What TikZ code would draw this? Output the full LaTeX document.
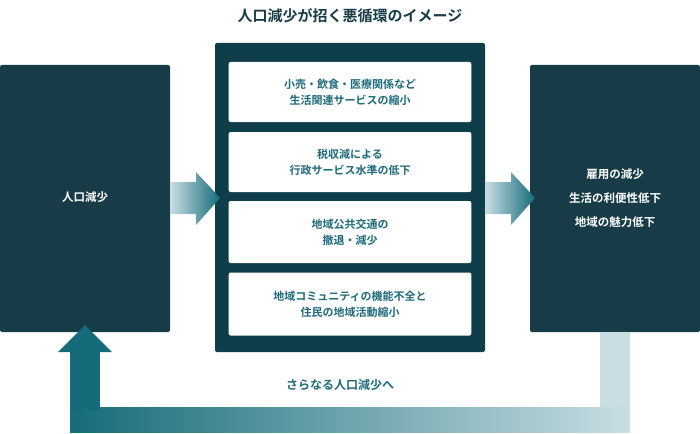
\documentclass[tikz,border=0pt]{standalone}
\usepackage{fontspec}
\setmainfont{Noto Sans CJK JP}[BoldFont={* Bold}]
\newfontfamily\jp{Noto Sans CJK JP Bold}
\usetikzlibrary{positioning}
\definecolor{dk}{HTML}{173C48}
\definecolor{mid}{HTML}{0E3E4A}
\definecolor{tx}{HTML}{1E6B7A}
\definecolor{ar}{HTML}{156B79}
\definecolor{lt}{HTML}{C8DEE3}
\tikzset{
 bigbox/.style={fill=dk,rounded corners=2pt,draw=none},
 inbox/.style={fill=white,rounded corners=2pt,minimum width=240pt,text width=236pt,align=center,text=tx,font=\jp\fontsize{11}{16}\selectfont},
 wtxt/.style={text=white,font=\jp\fontsize{11.5}{16}\selectfont,align=center}
}
\begin{document}
\begin{tikzpicture}[x=1pt,y=-1pt]
\useasboundingbox (0,0) rectangle (700,433);
\node[font=\jp\fontsize{15}{18}\selectfont,text=dk] (title) at (350,16) {人口減少が招く悪循環のイメージ};
% boxes
\fill[bigbox] (0,65) rectangle (170,332);
\node[wtxt] (L) at (85,197) {人口減少};
\fill[bigbox,fill=mid] (215,43) rectangle (485,352);
\fill[bigbox] (530,65) rectangle (700,332);
\node[wtxt,font=\jp\fontsize{11.5}{24}\selectfont] (R) at (615,198) {雇用の減少\\生活の利便性低下\\地域の魅力低下};
\node[inbox,minimum height=60pt] (a) at (350,92) {小売・飲食・医療関係など\\生活関連サービスの縮小};
\node[inbox,minimum height=60pt] (b) at (350,162) {税収減による\\行政サービス水準の低下};
\node[inbox,minimum height=62pt] (c) at (350,232) {地域公共交通の\\撤退・減少};
\node[inbox,minimum height=63pt] (d) at (350,304) {地域コミュニティの機能不全と\\住民の地域活動縮小};
% middle arrows
\foreach \x in {170,485}{
 \shade[left color=lt,right color=ar] (\x,182) -- (\x+26,182) -- (\x+26,172) -- (\x+50,198) -- (\x+26,225) -- (\x+26,214) -- (\x,214) -- cycle;}
% feedback arrow
\fill[lt] (600,332) rectangle (630,432);
\shade[left color=ar,right color=lt] (70,407) rectangle (630,432);
\fill[ar] (70,352) rectangle (100,410);
\fill[ar] (58,352) -- (85,325) -- (112,352) -- cycle;
\node[text=tx,font=\jp\fontsize{12}{16}\selectfont] (f) at (340,385) {さらなる人口減少へ};
\end{tikzpicture}
\end{document}
